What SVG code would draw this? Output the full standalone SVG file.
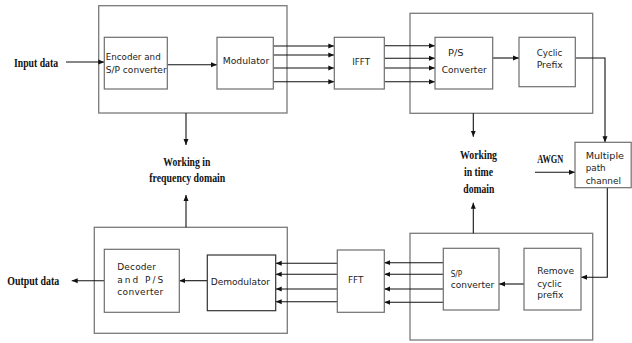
<svg xmlns="http://www.w3.org/2000/svg" width="632" height="343" viewBox="0 0 632 343">
<style>
.outer{fill:none;stroke:#7a7a7a;stroke-width:1.3}
.inner{fill:#fff;stroke:#6e6e6e;stroke-width:1.2}
.dark{fill:#fff;stroke:#333;stroke-width:1.2}
.c{fill:none;stroke:#111;stroke-width:1.1}
.t{font-family:"DejaVu Sans",Verdana,sans-serif;font-size:9px;fill:#222}
.b{font-family:"Liberation Serif","Times New Roman",serif;font-weight:bold;font-size:11.5px;fill:#111}
</style>
<defs>
<marker id="ah" markerWidth="6" markerHeight="6" refX="6" refY="3" orient="auto" markerUnits="userSpaceOnUse">
<path d="M0,0.5 L6,3 L0,5.5 z" fill="#111"/>
</marker>
</defs>
<rect width="632" height="343" fill="#fff"/>

<g id="tx-block">
<rect class="outer" x="98.7" y="5.7" width="188.3" height="107.3"/>
</g>
<g id="time-tx-block">
<rect class="outer" x="410" y="13.3" width="182.7" height="100"/>
</g>
<g id="time-rx-block">
<rect class="outer" x="410" y="233.3" width="182.7" height="106.7"/>
</g>
<g id="rx-block">
<rect class="outer" x="94.3" y="227.3" width="193" height="106"/>
</g>

<g id="connectors">
<line class="c" x1="66" y1="62" x2="104.3" y2="62" marker-end="url(#ah)"/>
<line class="c" x1="167.3" y1="64.7" x2="217" y2="64.7" marker-end="url(#ah)"/>
<line class="c" x1="273.3" y1="46" x2="334.3" y2="46" marker-end="url(#ah)"/>
<line class="c" x1="273.3" y1="55" x2="334.3" y2="55" marker-end="url(#ah)"/>
<line class="c" x1="273.3" y1="68" x2="334.3" y2="68" marker-end="url(#ah)"/>
<line class="c" x1="273.3" y1="81.7" x2="334.3" y2="81.7" marker-end="url(#ah)"/>
<line class="c" x1="384.3" y1="45.7" x2="435" y2="45.7" marker-end="url(#ah)"/>
<line class="c" x1="384.3" y1="58.3" x2="435" y2="58.3" marker-end="url(#ah)"/>
<line class="c" x1="384.3" y1="68" x2="435" y2="68" marker-end="url(#ah)"/>
<line class="c" x1="384.3" y1="81.7" x2="435" y2="81.7" marker-end="url(#ah)"/>
<line class="c" x1="492.7" y1="58" x2="519" y2="58" marker-end="url(#ah)"/>
<polyline class="c" points="575.3,58 605,58 605,142.3" marker-end="url(#ah)"/>
<line class="c" x1="535" y1="172.3" x2="575" y2="172.3" marker-end="url(#ah)"/>
<polyline class="c" points="607.3,187.7 607.3,277.3 581,277.3" marker-end="url(#ah)"/>
<line class="c" x1="524" y1="284" x2="499" y2="284" marker-end="url(#ah)"/>
<line class="c" x1="443.3" y1="262.7" x2="384.3" y2="262.7" marker-end="url(#ah)"/>
<line class="c" x1="443.3" y1="274.3" x2="384.3" y2="274.3" marker-end="url(#ah)"/>
<line class="c" x1="443.3" y1="289" x2="384.3" y2="289" marker-end="url(#ah)"/>
<line class="c" x1="443.3" y1="302.3" x2="384.3" y2="302.3" marker-end="url(#ah)"/>
<line class="c" x1="337.3" y1="263.3" x2="275.7" y2="263.3" marker-end="url(#ah)"/>
<line class="c" x1="337.3" y1="274.3" x2="275.7" y2="274.3" marker-end="url(#ah)"/>
<line class="c" x1="337.3" y1="289" x2="275.7" y2="289" marker-end="url(#ah)"/>
<line class="c" x1="337.3" y1="301.7" x2="275.7" y2="301.7" marker-end="url(#ah)"/>
<line class="c" x1="207.3" y1="280.7" x2="179.3" y2="280.7" marker-end="url(#ah)"/>
<line class="c" x1="104.3" y1="280.7" x2="71.7" y2="280.7" marker-end="url(#ah)"/>
<line class="c" x1="186" y1="113" x2="186" y2="145" marker-end="url(#ah)"/>
<line class="c" x1="186" y1="227.3" x2="186" y2="195" marker-end="url(#ah)"/>
<line class="c" x1="473.3" y1="113.3" x2="473.3" y2="136.7" marker-end="url(#ah)"/>
<line class="c" x1="473.3" y1="233.3" x2="473.3" y2="202.7" marker-end="url(#ah)"/>
</g>

<g id="encoder">
<rect class="inner" x="104.3" y="37.3" width="63" height="51.7"/>
<text class="t" x="105.7" y="60" textLength="55" lengthAdjust="spacingAndGlyphs">Encoder and</text>
<text class="t" x="105.7" y="72.6" textLength="61" lengthAdjust="spacingAndGlyphs">S/P converter</text>
</g>
<g id="modulator">
<rect class="inner" x="217" y="37.3" width="56.3" height="51.7"/>
<text class="t" x="222.7" y="64" textLength="46.6" lengthAdjust="spacingAndGlyphs">Modulator</text>
</g>
<g id="ifft">
<rect class="inner" x="334.3" y="37.3" width="50" height="51.7"/>
<text class="t" x="352.3" y="64.5" textLength="17.7" lengthAdjust="spacingAndGlyphs">IFFT</text>
</g>
<g id="ps-converter">
<rect class="inner" x="435" y="37.3" width="57.7" height="51.7"/>
<text class="t" x="448" y="56" textLength="15.5" lengthAdjust="spacingAndGlyphs">P/S</text>
<text class="t" x="441.7" y="72.6" textLength="45" lengthAdjust="spacingAndGlyphs">Converter</text>
</g>
<g id="cyclic-prefix">
<rect class="inner" x="519" y="37.3" width="56.3" height="49.4"/>
<text class="t" x="536.7" y="56" textLength="25.6" lengthAdjust="spacingAndGlyphs">Cyclic</text>
<text class="t" x="536.7" y="68" textLength="26" lengthAdjust="spacingAndGlyphs">Prefix</text>
</g>
<g id="multipath">
<rect class="inner" x="575" y="142.3" width="56.2" height="45.4"/>
<text class="t" x="585.7" y="159" textLength="38.3" lengthAdjust="spacingAndGlyphs">Multiple</text>
<text class="t" x="585.7" y="171" textLength="20" lengthAdjust="spacingAndGlyphs">path</text>
<text class="t" x="585.7" y="184" textLength="35.3" lengthAdjust="spacingAndGlyphs">channel</text>
</g>
<g id="remove-cp">
<rect class="inner" x="524" y="248.3" width="57" height="61.7"/>
<text class="t" x="537.3" y="274" textLength="36.7" lengthAdjust="spacingAndGlyphs">Remove</text>
<text class="t" x="537.3" y="286.7" textLength="24.4" lengthAdjust="spacingAndGlyphs">cyclic</text>
<text class="t" x="537.3" y="298.3" textLength="26" lengthAdjust="spacingAndGlyphs">prefix</text>
</g>
<g id="sp-converter">
<rect class="inner" x="443.3" y="248.3" width="55.7" height="61.7"/>
<text class="t" x="450.7" y="276.7" textLength="11.6" lengthAdjust="spacingAndGlyphs">S/P</text>
<text class="t" x="450.7" y="288" textLength="43.6" lengthAdjust="spacingAndGlyphs">converter</text>
</g>
<g id="fft">
<rect class="inner" x="337.3" y="250" width="47" height="62.3"/>
<text class="t" x="348" y="283.3" textLength="15.3" lengthAdjust="spacingAndGlyphs">FFT</text>
</g>
<g id="demodulator">
<rect class="dark" x="207.3" y="255" width="68.4" height="55.7"/>
<text class="t" x="210.7" y="284.5" textLength="59.3" lengthAdjust="spacingAndGlyphs">Demodulator</text>
</g>
<g id="decoder">
<rect class="inner" x="104.3" y="249.3" width="75" height="63"/>
<text class="t" x="117.3" y="270" textLength="38.7" lengthAdjust="spacing">Decoder</text>
<text class="t" x="117.3" y="283.3" textLength="46" lengthAdjust="spacing">and P/S</text>
<text class="t" x="117.3" y="295" textLength="46" lengthAdjust="spacing">converter</text>
</g>

<g id="labels">
<text class="b" x="14" y="66.5" textLength="44" lengthAdjust="spacingAndGlyphs">Input data</text>
<text class="b" x="7.3" y="285" textLength="52" lengthAdjust="spacingAndGlyphs">Output data</text>
<text class="b" x="163.3" y="166" textLength="47" lengthAdjust="spacingAndGlyphs">Working in</text>
<text class="b" x="149.3" y="182" textLength="76" lengthAdjust="spacingAndGlyphs">frequency domain</text>
<text class="b" x="460" y="159" textLength="37" lengthAdjust="spacingAndGlyphs">Working</text>
<text class="b" x="464" y="175.5" textLength="29" lengthAdjust="spacingAndGlyphs">in time</text>
<text class="b" x="463.3" y="192.5" textLength="31" lengthAdjust="spacingAndGlyphs">domain</text>
<text class="b" x="537.3" y="162.5" textLength="26" lengthAdjust="spacingAndGlyphs">AWGN</text>
</g>
</svg>
